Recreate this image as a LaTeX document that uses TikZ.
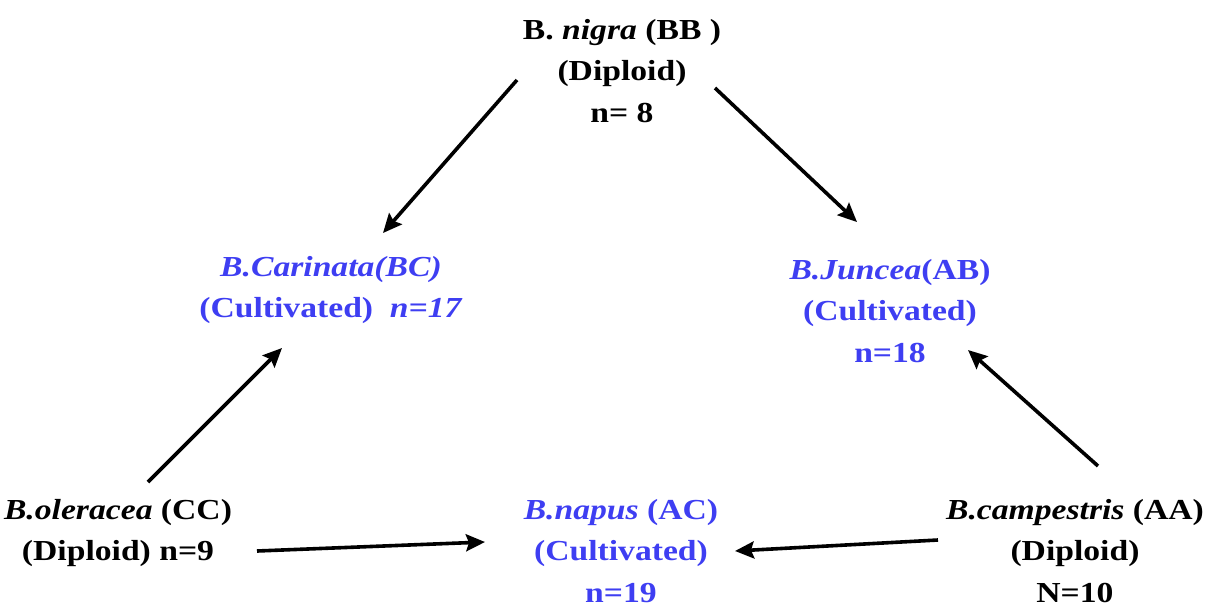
\documentclass[tikz,border=0pt]{standalone}
\usepackage{fontspec}
\setmainfont{Liberation Serif}
\usetikzlibrary{arrows.meta}
\definecolor{blu}{RGB}{62,62,242}
\begin{document}
\begin{tikzpicture}[x=1pt,y=-1pt,
  lbl/.style={align=center,inner sep=0pt,xscale=1.16,font=\fontsize{29}{41.5}\selectfont\bfseries},
  cult/.style={lbl,text=blu},
  arr/.style={line width=3.6pt,-{Stealth[length=19pt,width=17pt,inset=3pt]}}]
\useasboundingbox (0,0) rectangle (1215,608);
\node[lbl] (nig) at (622,71) {B. \textit{nigra} (BB )\\(Diploid)\\n= 8};
\node[cult] (car) at (331,290) {\textit{B.Carinata(BC)}\\(Cultivated)\ \ \textit{n=17}};
\node[cult] (jun) at (890,311) {\textit{B.Juncea}(AB)\\(Cultivated)\\n=18};
\node[lbl] (ole) at (118,533) {\textit{B.oleracea} (CC)\\(Diploid) n=9};
\node[cult] (nap) at (621,551) {\textit{B.napus} (AC)\\(Cultivated)\\n=19};
\node[lbl] (cam) at (1075,551) {\textit{B.campestris} (AA)\\(Diploid)\\N=10};
\coordinate (nigL) at (517,80);
\coordinate (carT) at (383,233);
\coordinate (nigR) at (715,88);
\coordinate (junT) at (857,222);
\coordinate (oleT) at (148,482);
\coordinate (carB) at (282,348);
\coordinate (camT) at (1098,466);
\coordinate (junB) at (968,350);
\coordinate (oleR) at (257,551);
\coordinate (napL) at (485,542);
\coordinate (camL) at (938,540);
\coordinate (napR) at (735,551);
\draw[arr] (nigL) -- (carT);
\draw[arr] (nigR) -- (junT);
\draw[arr] (oleT) -- (carB);
\draw[arr] (camT) -- (junB);
\draw[arr] (oleR) -- (napL);
\draw[arr] (camL) -- (napR);
\end{tikzpicture}
\end{document}
